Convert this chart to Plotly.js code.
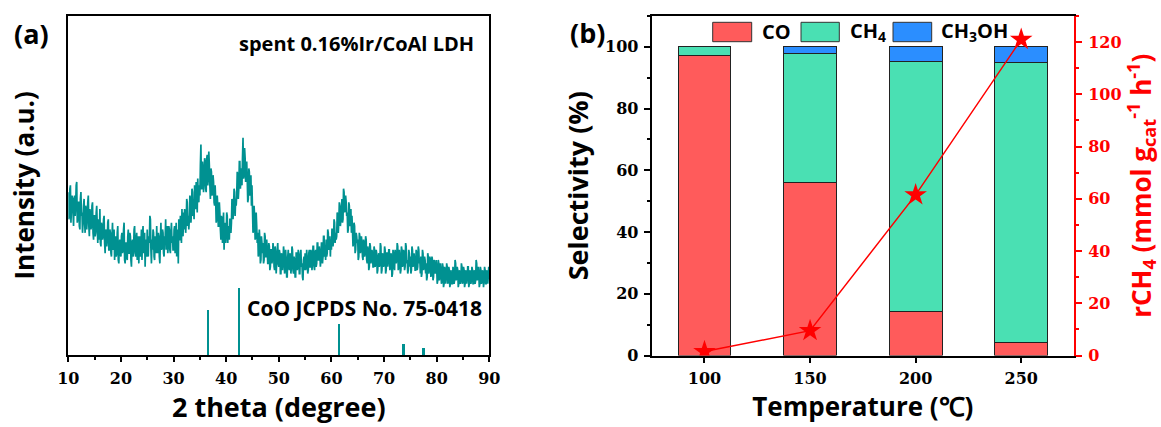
<!DOCTYPE html>
<html><head><meta charset="utf-8">
<script src="https://cdn.plot.ly/plotly-3.0.1.min.js"></script>
<style>html,body{margin:0;padding:0;background:#fff}#chart{width:1161px;height:427px}</style>
</head><body><div id="chart"></div>
<script>
// ---- Panel (a): XRD pattern, 2theta from 10 to 90 sampled every 0.1 degree ----
const xrdStart = 10;
const xrdStep = 0.1;
const xrdIntensity = [
48,40,41,49,50,39,43,47,46,42, 38,46,47,41,44,50,51,39,40,45, 45,38,37,46,48,41,42,36,39,44,
46,39,36,44,43,37,40,45,47,38, 35,43,42,37,38,44,45,36,34,41, 41,35,36,42,44,38,33,40,39,34,
43,33,32,39,38,34,35,40,41,33, 30,36,37,32,34,39,40,31,31,37, 36,30,29,35,39,31,32,37,28,34,
35,29,30,36,38,28,27,33,34,30, 29,35,36,30,31,37,39,28,27,33, 33,29,28,35,37,30,30,36,35,28,
26,33,34,29,31,37,38,30,29,34, 36,28,30,35,27,33,35,29,32,37, 28,35,38,30,31,36,26,33,34,29,
37,30,29,35,33,41,40,31,27,34, 31,37,36,29,28,35,34,30,38,32, 30,36,35,29,27,34,39,31,32,37,
36,30,29,35,34,40,31,36,38,30, 32,38,37,31,30,36,39,33,35,31, 31,37,38,30,33,39,29,36,37,27,
40,34,34,41,38,33,43,36,35,42, 37,43,42,36,39,46,45,38,41,37, 40,47,46,39,42,49,48,41,44,40,
50,44,43,51,48,42,52,46,45,50, 47,56,62,49,49,57,55,48,51,58, 57,49,48,58,59,50,52,60,56,50,
46,55,54,47,48,53,51,45,44,50, 46,39,40,47,44,38,38,45,42,37, 34,41,40,33,36,42,31,38,39,33,
35,42,41,33,38,35,34,40,40,36, 39,46,45,40,43,49,48,41,46,44, 47,54,53,46,49,57,57,49,52,55,
50,58,64,52,53,61,58,51,55,57, 52,45,46,55,54,47,48,53,44,50, 43,36,37,44,41,34,35,42,38,33,
36,29,30,37,34,27,28,35,33,30, 33,27,28,36,35,29,29,34,31,27, 27,33,32,25,26,31,31,27,29,33,
31,26,25,32,30,24,27,31,33,27, 26,31,30,24,24,30,29,25,27,32, 30,24,25,31,28,23,23,29,31,26,
25,30,29,24,26,32,31,25,24,29, 28,23,23,30,30,25,26,31,29,24, 24,30,31,26,27,23,22,28,29,25,
30,25,26,31,28,24,25,30,31,26, 26,31,30,25,27,32,32,26,25,30, 31,26,27,33,33,28,28,32,30,26,
28,33,33,27,29,35,35,29,31,28, 34,29,30,37,36,31,32,35,29,34, 31,37,37,32,34,40,39,33,36,34,
35,42,41,36,39,45,44,38,40,43, 46,39,40,49,48,42,43,47,45,41, 42,36,37,45,44,38,39,43,36,41,
37,32,33,39,38,30,31,36,35,33, 34,28,29,36,35,30,31,35,33,29, 28,34,33,29,30,35,34,28,27,32,
31,25,26,33,32,27,28,31,30,26, 26,32,31,26,27,31,30,24,25,29, 30,26,27,33,32,24,25,30,29,26,
27,32,31,24,25,30,30,26,28,31, 31,25,26,30,29,23,24,31,30,26, 25,31,30,27,28,33,32,25,26,31,
29,24,25,32,31,26,27,31,30,25, 26,33,32,27,28,24,25,31,30,26, 29,24,25,32,31,26,27,30,28,25,
25,31,30,25,26,32,31,27,28,24, 29,23,24,31,30,25,26,29,28,24, 27,22,23,30,29,24,25,29,28,23,
24,29,28,22,23,28,27,24,25,28, 26,21,22,28,27,22,23,27,25,21, 22,27,26,20,21,26,25,21,23,27,
26,21,22,26,25,20,21,25,24,21, 21,26,25,21,22,28,27,22,23,26, 25,20,21,25,24,21,22,27,26,21,
22,26,25,20,21,25,24,21,23,26, 26,20,21,25,24,21,22,26,25,21, 21,25,24,21,22,28,27,22,23,26,
24,20,21,26,25,21,22,25,24,20, 22,26,25,21,21,25,24,21,23,26,
23
];
const refPeak2theta = [36.5, 42.4, 61.5, 73.7, 77.5];
const refPeakIntensity = [13.3, 19.8, 9.2, 3.3, 2.1];

// ---- Panel (b): selectivity and CH4 rate ----
const temperatures = [100, 150, 200, 250];
const selCO = [97.1, 56.2, 14.1, 4.3];
const selCH4 = [2.9, 41.5, 81.3, 90.5];
const selCH3OH = [0, 2.3, 4.6, 5.2];
const rateCH4 = [1.5, 9.5, 61.5, 121];

const seriesNames = ['CO', 'CH<sub>4</sub>', 'CH<sub>3</sub>OH'];

// ---- helpers ----
const W = 1161, H = 427;
const px = v => v / W;
const py = v => 1 - v / H;

const xrdTheta = xrdIntensity.map((_, i) => +(xrdStart + i * xrdStep).toFixed(2));

const teal = '#009191';
const cCO = '#FF5B5B', cCH4 = '#4AE0B3', cMeOH = '#2B8EFF';
const red = '#FF0000';
const sans = 'Open Sans';
const serif = 'DejaVu Serif';

const traces = [
  {type: 'scatter', mode: 'lines', x: xrdTheta, y: xrdIntensity, xaxis: 'x', yaxis: 'y',
   line: {color: teal, width: 1.7, simplify: false}, hoverinfo: 'skip'},
  {type: 'bar', x: refPeak2theta, y: refPeakIntensity, xaxis: 'x', yaxis: 'y',
   width: 0.4, marker: {color: teal, line: {width: 0}}},
  {type: 'bar', name: 'CO', x: temperatures, y: selCO, xaxis: 'x2', yaxis: 'y2', width: 25,
   marker: {color: cCO, line: {color: '#222', width: 1}}},
  {type: 'bar', name: 'CH4', x: temperatures, y: selCH4, xaxis: 'x2', yaxis: 'y2', width: 25,
   marker: {color: cCH4, line: {color: '#222', width: 1}}},
  {type: 'bar', name: 'CH3OH', x: temperatures, y: selCH3OH, xaxis: 'x2', yaxis: 'y2', width: 25,
   marker: {color: cMeOH, line: {color: '#222', width: 1}}},
  {type: 'scatter', mode: 'lines+markers', name: 'rCH4', x: temperatures, y: rateCH4,
   xaxis: 'x2', yaxis: 'y3', line: {color: red, width: 1.5},
   marker: {symbol: 'star', size: 17, color: red, line: {width: 0}}}
];

const tickFontA = {family: serif, size: 16, color: '#000', weight: 'bold'};
const tickFontB = {family: serif, size: 16, color: '#000', weight: 'bold'};
const titleFont = (sz, col) => ({family: sans, size: sz, color: col || '#000', weight: 700});

const legendBoxes = [
  {x0: 712.7, x1: 751.7, color: cCO, tx: 760},
  {x0: 801, x1: 839.3, color: cCH4, tx: 848},
  {x0: 893, x1: 931.7, color: cMeOH, tx: 939}
];

const shapes = legendBoxes.map(b => ({
  type: 'rect', xref: 'paper', yref: 'paper',
  x0: px(b.x0), x1: px(b.x1), y0: py(41.7), y1: py(22.3),
  fillcolor: b.color, line: {color: '#333', width: 1}
}));

const annotations = [
  {text: '(a)', x: px(12), y: py(34), xanchor: 'left', yanchor: 'middle', font: titleFont(27)},
  {text: '(b)', x: px(568), y: py(33), xanchor: 'left', yanchor: 'middle', font: titleFont(27)},
  {text: 'spent 0.16%Ir/CoAl LDH', x: px(476), y: py(43), xanchor: 'right', yanchor: 'middle', font: titleFont(20)},
  {text: 'CoO JCPDS No. 75-0418', x: px(484), y: py(308), xanchor: 'right', yanchor: 'middle', font: titleFont(21)}
].concat(legendBoxes.map((b, i) => ({
  text: seriesNames[i], x: px(b.tx), y: py(32), xanchor: 'left', yanchor: 'middle', font: titleFont(20)
})));
annotations.forEach(a => { a.xref = 'paper'; a.yref = 'paper'; a.showarrow = false; });

const layout = {
  width: W, height: H,
  margin: {l: 0, r: 0, t: 0, b: 0},
  paper_bgcolor: '#fff', plot_bgcolor: '#fff',
  showlegend: false,
  barmode: 'stack',
  xaxis: {
    domain: [px(68.3), px(489.3)], anchor: 'y', range: [10, 90],
    tick0: 10, dtick: 10, ticks: 'outside', ticklen: 5, tickwidth: 2, tickcolor: '#000',
    minor: {dtick: 5, ticks: 'outside', ticklen: 3, tickwidth: 2, tickcolor: '#000'},
    showline: true, linecolor: '#000', linewidth: 2, mirror: true,
    showgrid: false, zeroline: false, tickfont: tickFontA, ticklabelstandoff: 3,
    title: {text: '2 theta (degree)', font: titleFont(27), standoff: 7}
  },
  yaxis: {
    domain: [py(355), py(15.7)], anchor: 'x', range: [0, 100],
    showticklabels: false, ticks: '', showline: true, linecolor: '#000', linewidth: 2, mirror: true,
    showgrid: false, zeroline: false,
    title: {text: 'Intensity (a.u.)', font: titleFont(26), standoff: 24}
  },
  xaxis2: {
    domain: [px(651.7), px(1074)], anchor: 'y2', range: [75, 275],
    tickvals: temperatures, ticks: 'outside', ticklen: 5, tickwidth: 2, tickcolor: '#000',
    showline: true, linecolor: '#000', linewidth: 2, mirror: true,
    showgrid: false, zeroline: false, tickfont: tickFontB, ticklabelstandoff: 2,
    title: {text: 'Temperature (℃)', font: titleFont(26), standoff: 7}
  },
  yaxis2: {
    domain: [py(355.5), py(16)], anchor: 'x2', range: [0, 110],
    tick0: 0, dtick: 20, ticks: 'outside', ticklen: 6, tickwidth: 2, tickcolor: '#000',
    minor: {dtick: 10, ticks: 'outside', ticklen: 3, tickwidth: 2, tickcolor: '#000'},
    showline: true, linecolor: '#000', linewidth: 2, mirror: false,
    showgrid: false, zeroline: false, tickfont: tickFontB, ticklabelstandoff: 2,
    title: {text: 'Selectivity (%)', font: titleFont(27), standoff: 9}
  },
  yaxis3: {
    overlaying: 'y2', side: 'right', anchor: 'x2', range: [0, 130],
    tick0: 0, dtick: 20, ticks: 'outside', ticklen: 6, tickwidth: 2, tickcolor: red,
    minor: {dtick: 10, ticks: 'outside', ticklen: 3, tickwidth: 2, tickcolor: red},
    showline: true, linecolor: red, linewidth: 2,
    showgrid: false, zeroline: false,
    tickfont: {family: serif, size: 16, color: red, weight: 'bold'}, ticklabelstandoff: 3,
    title: {text: 'rCH<sub>4</sub> (mmol g<sub>cat</sub><sup>-1</sup> h<sup>-1</sup>)', font: titleFont(26, red), standoff: 18}
  },
  shapes: shapes,
  annotations: annotations
};

Plotly.newPlot('chart', traces, layout, {displayModeBar: false, staticPlot: true});
</script>
</body></html>
